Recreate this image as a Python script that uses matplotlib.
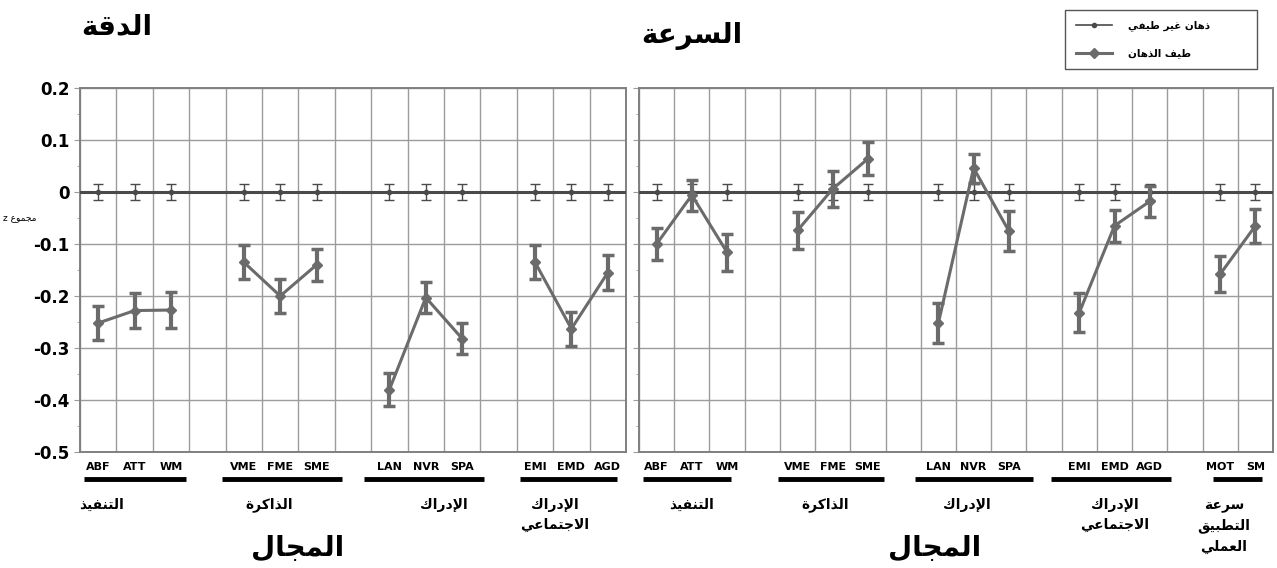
import numpy as np
import matplotlib.pyplot as plt
from matplotlib.ticker import MultipleLocator

plt.rcParams['font.family'] = ['DejaVu Sans']
plt.rcParams['axes.unicode_minus'] = False

# --- data -----------------------------------------------------------------
acc_groups = ['التنفيذ', 'الذاكرة', 'الإدراك', 'الإدراك\nالاجتماعي']
acc_tests = [['ABF', 'ATT', 'WM'], ['VME', 'FME', 'SME'],
             ['LAN', 'NVR', 'SPA'], ['EMI', 'EMD', 'AGD']]
acc_mean = [[-0.252, -0.228, -0.227], [-0.135, -0.200, -0.140],
            [-0.380, -0.203, -0.282], [-0.135, -0.263, -0.155]]
acc_err = [[0.032, 0.034, 0.034], [0.033, 0.033, 0.031],
           [0.032, 0.029, 0.030], [0.033, 0.033, 0.033]]

spd_groups = ['التنفيذ', 'الذاكرة', 'الإدراك', 'الإدراك\nالاجتماعي',
              'سرعة\nالتطبيق\nالعملي']
spd_tests = [['ABF', 'ATT', 'WM'], ['VME', 'FME', 'SME'],
             ['LAN', 'NVR', 'SPA'], ['EMI', 'EMD', 'AGD'], ['MOT', 'SM']]
spd_mean = [[-0.100, -0.006, -0.116], [-0.074, 0.006, 0.064],
            [-0.252, 0.046, -0.075], [-0.232, -0.065, -0.018],
            [-0.158, -0.065]]
spd_err = [[0.031, 0.030, 0.035], [0.035, 0.034, 0.032],
           [0.038, 0.028, 0.039], [0.037, 0.031, 0.030],
           [0.035, 0.033]]

ctrl_mean = 0.0
ctrl_err = 0.016

label_ctrl = 'ذهان غير طيفي'
label_exp = 'طيف الذهان'

# --- arabic shaping (matplotlib has no text shaper) -------------------------
# isolated, final, initial, medial
AR_FORMS = {
    'ا': ('\uFE8D', '\uFE8E', None, None),
    'إ': ('\uFE87', '\uFE88', None, None),
    'ب': ('\uFE8F', '\uFE90', '\uFE91', '\uFE92'),
    'ة': ('\uFE93', '\uFE94', None, None),
    'ت': ('\uFE95', '\uFE96', '\uFE97', '\uFE98'),
    'ج': ('\uFE9D', '\uFE9E', '\uFE9F', '\uFEA0'),
    'د': ('\uFEA9', '\uFEAA', None, None),
    'ذ': ('\uFEAB', '\uFEAC', None, None),
    'ر': ('\uFEAD', '\uFEAE', None, None),
    'س': ('\uFEB1', '\uFEB2', '\uFEB3', '\uFEB4'),
    'ط': ('\uFEC1', '\uFEC2', '\uFEC3', '\uFEC4'),
    'ع': ('\uFEC9', '\uFECA', '\uFECB', '\uFECC'),
    'غ': ('\uFECD', '\uFECE', '\uFECF', '\uFED0'),
    'ف': ('\uFED1', '\uFED2', '\uFED3', '\uFED4'),
    'ق': ('\uFED5', '\uFED6', '\uFED7', '\uFED8'),
    'ك': ('\uFED9', '\uFEDA', '\uFEDB', '\uFEDC'),
    'ل': ('\uFEDD', '\uFEDE', '\uFEDF', '\uFEE0'),
    'م': ('\uFEE1', '\uFEE2', '\uFEE3', '\uFEE4'),
    'ن': ('\uFEE5', '\uFEE6', '\uFEE7', '\uFEE8'),
    'ه': ('\uFEE9', '\uFEEA', '\uFEEB', '\uFEEC'),
    'و': ('\uFEED', '\uFEEE', None, None),
    'ي': ('\uFEF1', '\uFEF2', '\uFEF3', '\uFEF4'),
}
LAM_ALEF = {'ا': ('\uFEFB', '\uFEFC', None, None),
            'إ': ('\uFEF9', '\uFEFA', None, None)}


def shape_line(s):
    toks = []
    i = 0
    while i < len(s):
        if s[i] == 'ل' and i + 1 < len(s) and s[i + 1] in LAM_ALEF:
            toks.append(LAM_ALEF[s[i + 1]])
            i += 2
        else:
            toks.append(AR_FORMS.get(s[i], s[i]))
            i += 1
    out = []
    for k, f in enumerate(toks):
        if isinstance(f, str):
            out.append(f)
            continue
        prev = toks[k - 1] if k > 0 else None
        nxt = toks[k + 1] if k + 1 < len(toks) else None
        jp = isinstance(prev, tuple) and prev[2] is not None
        jn = f[2] is not None and isinstance(nxt, tuple)
        if jp and jn:
            out.append(f[3])
        elif jp:
            out.append(f[1])
        elif jn:
            out.append(f[2])
        else:
            out.append(f[0])
    return ''.join(reversed(out))


def ar(s):
    return '\n'.join(shape_line(line) for line in s.split('\n'))


# --- figure ---------------------------------------------------------------
W, H = 1277, 568
fig = plt.figure(figsize=(W / 100, H / 100), dpi=100)
ax1 = fig.add_axes([80 / W, 1 - 452 / H, 546 / W, 364 / H])
ax2 = fig.add_axes([639 / W, 1 - 452 / H, 634 / W, 364 / H])

exp_color = '#6b6b6b'
ctrl_color = '#4a4a4a'
grid_color = '#9c9c9c'


def draw_panel(ax, tests, means, errs, groups, bars, label_x, show_y):
    # one empty column between domains
    n_cols = sum(len(t) for t in tests) + len(tests) - 1
    ticks, names = [], []
    ctrl_line = exp_line = None
    ax.axhline(ctrl_mean, color=ctrl_color, lw=2.2, zorder=3)
    start = 0
    for g, names_g in enumerate(tests):
        xs = start + np.arange(len(names_g)) + 0.5
        start += len(names_g) + 1
        ticks += list(xs)
        names += names_g
        zeros = np.full(len(xs), ctrl_mean)
        ctrl_line, = ax.plot(xs, zeros, color=ctrl_color, lw=1.2,
                             marker='o', ms=3, zorder=4)
        ax.errorbar(xs, zeros, yerr=ctrl_err, fmt='none', ecolor=ctrl_color,
                    elinewidth=1, capsize=3.5, capthick=1, zorder=4)
        exp_line, = ax.plot(xs, means[g], color=exp_color, lw=2.2,
                            marker='D', ms=5, zorder=5)
        ax.errorbar(xs, means[g], yerr=errs[g], fmt='none', ecolor=exp_color,
                    elinewidth=3, capsize=4, capthick=2.5, zorder=5)

    ax.set_xlim(0, n_cols)
    ax.set_ylim(-0.5, 0.2)
    ax.set_xticks(ticks)
    ax.set_xticklabels(names, fontsize=8, fontweight='bold')
    ax.set_xticks(np.arange(n_cols + 1), minor=True)
    ax.tick_params(axis='x', which='both', length=0, pad=7)

    yt = np.round(np.arange(-0.5, 0.21, 0.1), 1)
    ax.set_yticks(yt)
    ax.yaxis.set_minor_locator(MultipleLocator(0.05))
    ax.tick_params(axis='y', which='major', length=4, color=grid_color)
    ax.tick_params(axis='y', which='minor', length=2.5, color=grid_color)
    if show_y:
        ax.set_yticklabels(['0' if v == 0 else f'{v:.1f}' for v in yt],
                           fontsize=12, fontweight='bold')
    else:
        ax.set_yticklabels([])

    ax.grid(which='minor', axis='x', color=grid_color, lw=1)
    ax.grid(which='major', axis='y', color=grid_color, lw=1)
    ax.set_axisbelow(True)
    for sp in ax.spines.values():
        sp.set_color('#808080')
        sp.set_linewidth(1.4)

    # group underlines and domain names under the tests
    trans = ax.get_xaxis_transform()
    for (a, b), lx, name in zip(bars, label_x, groups):
        ax.plot([a, b], [-0.075, -0.075], transform=trans, color='black',
                lw=3.5, solid_capstyle='butt', clip_on=False)
        ax.text(lx, -0.125, ar(name), transform=trans, ha='center', va='top',
                fontsize=10, fontweight='bold', linespacing=1.6)
    return ctrl_line, exp_line


draw_panel(ax1, acc_tests, acc_mean, acc_err, acc_groups,
           bars=[(0.1, 2.9), (3.9, 7.2), (7.8, 11.1), (12.1, 14.75)],
           label_x=[0.6, 5.2, 10.0, 13.05], show_y=True)
h_ctrl, h_exp = draw_panel(
    ax2, spd_tests, spd_mean, spd_err, spd_groups,
    bars=[(0.1, 2.6), (3.95, 6.95), (7.85, 11.2), (11.7, 15.1), (16.3, 17.7)],
    label_x=[1.5, 5.3, 9.3, 13.5, 16.6], show_y=False)

# titles
fig.text(117 / W, 1 - 26 / H, ar('الدقة'), ha='center', va='center',
         fontsize=20, fontweight='bold')
fig.text(692 / W, 1 - 36 / H, ar('السرعة'), ha='center', va='center',
         fontsize=20, fontweight='bold')
fig.text(298 / W, 1 - 548 / H, ar('المجال'), ha='center', va='center',
         fontsize=20, fontweight='bold')
fig.text(935 / W, 1 - 548 / H, ar('المجال'), ha='center', va='center',
         fontsize=20, fontweight='bold')
fig.text(20 / W, 1 - 218 / H, ar('مجموع z'), ha='center', va='center',
         fontsize=6.5)

fig.legend([h_ctrl, h_exp], [ar(label_ctrl), ar(label_exp)],
           loc='upper left', mode='expand',
           bbox_to_anchor=(1060 / W, 1 - 83 / H, 202 / W, 78 / H),
           prop={'size': 7.5, 'weight': 'bold'}, handlelength=3.5,
           handletextpad=1.5, labelspacing=1.6, borderpad=1.0,
           fancybox=False, framealpha=1, edgecolor='#555555')

fig.savefig('out.png', dpi=100)
